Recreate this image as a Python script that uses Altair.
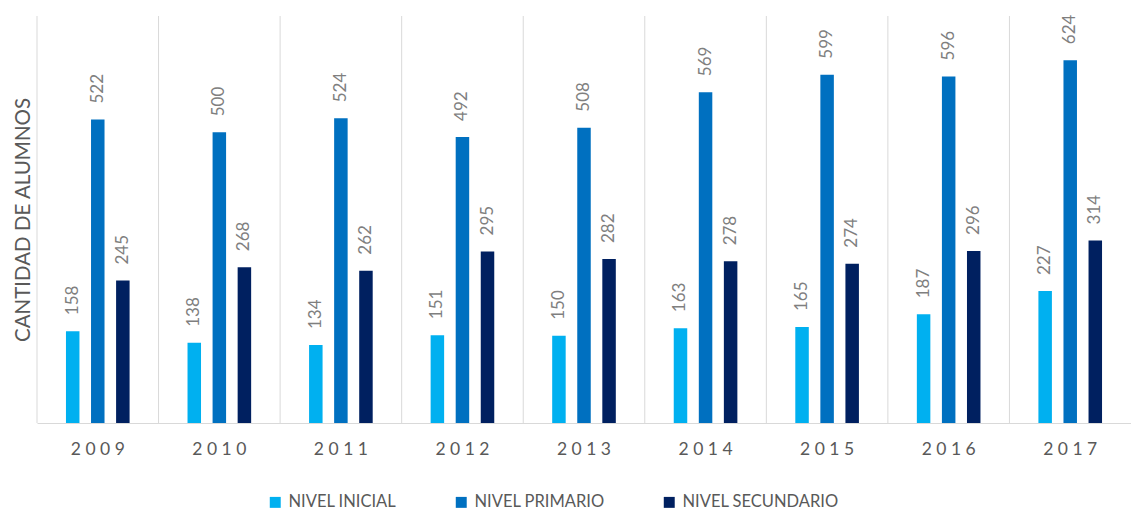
import altair as alt
import pandas as pd

years = ["2009", "2010", "2011", "2012", "2013", "2014", "2015", "2016", "2017"]
niveles = ["NIVEL INICIAL", "NIVEL PRIMARIO", "NIVEL SECUNDARIO"]
inicial = [158, 138, 134, 151, 150, 163, 165, 187, 227]
primario = [522, 500, 524, 492, 508, 569, 599, 596, 624]
secundario = [245, 268, 262, 295, 282, 278, 274, 296, 314]
colors = ["#00B0F0", "#0070C0", "#002060"]

rows = []
for series, name in zip([inicial, primario, secundario], niveles):
    for y, v in zip(years, series):
        rows.append({"year": y, "nivel": name, "value": v})
df = pd.DataFrame(rows)

FONT = "Lato"
GRAY = "#595959"

xscale = alt.Scale(domain=years, paddingInner=0, paddingOuter=0)
xoff = alt.XOffset("nivel:N", sort=niveles,
                   scale=alt.Scale(domain=niveles, paddingInner=0.15, paddingOuter=1))
yscale = alt.Scale(domain=[0, 700])

base = alt.Chart(df)

bars = base.mark_bar(width=13.5).encode(
    x=alt.X("year:N", scale=xscale, title=None,
            axis=alt.Axis(labelExpr="join(split(datum.label, ''), ' ')",
                          bandPosition=0.5,
                          labelFont=FONT, labelFontSize=17.5, labelColor=GRAY,
                          labelPadding=17, ticks=False, domainColor="#d9d9d9",
                          domainWidth=1, grid=False, labelAngle=0)),
    xOffset=xoff,
    y=alt.Y("value:Q", scale=yscale, title="CANTIDAD DE ALUMNOS",
            axis=alt.Axis(labels=False, ticks=False, domain=False, grid=False,
                          titleFont=FONT, titleFontSize=20.5, titleColor=GRAY,
                          titleFontWeight="normal", titlePadding=4)),
    color=alt.Color("nivel:N", sort=niveles,
                    scale=alt.Scale(domain=niveles, range=colors),
                    legend=alt.Legend(title=None, orient="none", direction="horizontal",
                                      legendX=230, legendY=478,
                                      symbolType="square", symbolSize=120,
                                      symbolStrokeWidth=0, labelLimit=0,
                                      labelFont=FONT, labelFontSize=16.5, labelColor=GRAY,
                                      labelOffset=5, columnPadding=56)),
)

labels = base.mark_text(angle=270, align="left", baseline="middle", dx=16,
                        font=FONT, fontSize=17, color="#7f7f7f").encode(
    x=alt.X("year:N", scale=xscale),
    xOffset=xoff,
    y=alt.Y("value:Q", scale=yscale),
    text="value:Q",
)

rules = alt.Chart(pd.DataFrame({"year": years})).mark_rule(
    color="#d9d9d9", strokeWidth=1
).encode(
    x=alt.X("year:N", scale=xscale, bandPosition=0, title=None)
)

chart = alt.layer(bars, labels, rules).properties(
    width=1094, height=407,
    padding={"top": 6, "left": 5, "right": 0, "bottom": 0},
).configure(background="white").configure_view(stroke=None)

chart.save("out.html", embed_options={"renderer": "svg", "actions": False})
